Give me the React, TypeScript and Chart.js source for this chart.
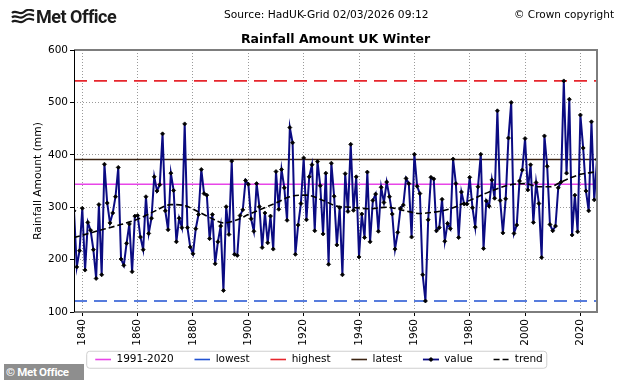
import React, { useEffect, useRef } from "react";
import { Chart, registerables } from "chart.js";

Chart.register(...registerables);

// ---------- data ----------
const FIRST_YEAR = 1837;

// UK winter rainfall (mm), 1837 .. 2026
const winterRainfall: number[] = [
  293, 186, 217, 298, 180, 271, 256, 219, 164, 305,
  171, 382, 308, 270, 289, 320, 376, 201, 189, 231,
  268, 177, 283, 284, 243, 219, 320, 250, 279, 358,
  331, 343, 440, 293, 257, 365, 332, 234, 279, 261,
  459, 261, 224, 211, 259, 286, 372, 326, 323, 240,
  286, 192, 234, 264, 141, 301, 248, 388, 210, 208,
  284, 295, 351, 344, 278, 254, 345, 301, 223, 289,
  232, 283, 220, 368, 296, 372, 337, 275, 452, 423,
  210, 266, 307, 394, 276, 358, 381, 255, 387, 341,
  249, 365, 191, 384, 321, 228, 299, 171, 364, 292,
  420, 294, 358, 205, 287, 242, 367, 234, 313, 325,
  254, 338, 309, 348, 320, 287, 220, 252, 298, 304,
  355, 345, 243, 401, 340, 326, 171, 121, 276, 357,
  354, 255, 261, 315, 235, 269, 259, 392, 345, 242,
  329, 306, 306, 357, 299, 262, 339, 401, 221, 312,
  302, 352, 317, 484, 313, 251, 316, 432, 500, 250,
  266, 350, 371, 431, 333, 381, 271, 347, 307, 204,
  436, 378, 267, 255, 264, 337, 348, 541, 365, 506,
  247, 323, 253, 476, 413, 331, 293, 463, 314, 391,
];

// smoothed trend
const trendYears: number[] = [
  1837, 1845, 1852, 1860, 1866, 1872, 1877, 1882, 1887, 1891,
  1896, 1900, 1905, 1910, 1915, 1921, 1927, 1932, 1937, 1944,
  1950, 1956, 1962, 1966, 1970, 1974, 1980, 1987, 1994, 2000,
  2005, 2009, 2013, 2019, 2026,
];
const trendValues: number[] = [
  242, 254, 264, 277, 292, 305, 303, 291, 278, 270,
  276, 286, 297, 308, 320, 323, 313, 302, 300, 297,
  300, 294, 288, 290, 293, 299, 313, 329, 342, 345,
  339, 339, 348, 361, 368,
];

const BASELINE_FROM = 1991;
const BASELINE_TO = 2020;

const xTickYears: number[] = [1840, 1860, 1880, 1900, 1920, 1940, 1960, 1980, 2000, 2020];
const yTickValues: number[] = [100, 200, 300, 400, 500, 600];

const legendLabels: string[] = ["1991-2020", "lowest", "highest", "latest", "value", "trend"];

const TITLE = "Rainfall Amount UK Winter";
const Y_TITLE = "Rainfall Amount (mm)";
const SOURCE_TEXT = "Source: HadUK-Grid 02/03/2026 09:12";
const COPYRIGHT_TEXT = "© Crown copyright";
const BRAND_TEXT = "Met Office";
const FOOTER_TEXT = "© Met Office";

// ---------- styles ----------
const MAGENTA = "#e845e8";
const BLUE = "#2152d2";
const RED = "#e6262d";
const BROWN = "#3c2412";
const NAVY = "#0b0b82";
const FONT = "'DejaVu Sans', sans-serif";

const SWATCH_PAD = 12; // blank space in front of each legend swatch (item spacing)
const SWATCH_LEN = 16;
const SW = SWATCH_PAD + SWATCH_LEN;
const SH = 9;

function makeSwatch(color: string, width: number, dash: number[], marker: boolean): HTMLCanvasElement {
  const c = document.createElement("canvas");
  c.width = SW;
  c.height = SH;
  const g = c.getContext("2d") as CanvasRenderingContext2D;
  g.strokeStyle = color;
  g.lineWidth = width;
  g.setLineDash(dash);
  g.beginPath();
  g.moveTo(SWATCH_PAD, SH / 2);
  g.lineTo(SW, SH / 2);
  g.stroke();
  if (marker) {
    const cx = SWATCH_PAD + SWATCH_LEN / 2;
    g.setLineDash([]);
    g.fillStyle = "#000";
    g.beginPath();
    g.moveTo(cx, SH / 2 - 2.6);
    g.lineTo(cx + 2.6, SH / 2);
    g.lineTo(cx, SH / 2 + 2.6);
    g.lineTo(cx - 2.6, SH / 2);
    g.closePath();
    g.fill();
  }
  return c;
}

const framePlugin = {
  id: "frameAndLegendBox",
  afterDatasetsDraw(chart: any) {
    const { ctx, chartArea } = chart;
    const { left, right, top, bottom } = chartArea;
    ctx.save();
    ctx.strokeStyle = "#7d7d7d";
    ctx.lineWidth = 2;
    ctx.beginPath();
    ctx.moveTo(left, top);
    ctx.lineTo(right, top);
    ctx.lineTo(right, bottom);
    ctx.lineTo(left, bottom);
    ctx.stroke();
    ctx.strokeStyle = "#000";
    ctx.lineWidth = 1;
    ctx.beginPath();
    ctx.moveTo(left + 0.5, top);
    ctx.lineTo(left + 0.5, bottom);
    ctx.stroke();
    ctx.restore();
  },
  afterDraw(chart: any) {
    const legend = chart.legend;
    if (!legend || !legend.legendHitBoxes || !legend.legendHitBoxes.length) return;
    const boxes = legend.legendHitBoxes;
    const first = boxes[0];
    const last = boxes[boxes.length - 1];
    const x0 = first.left + SWATCH_PAD - 8.5;
    const x1 = last.left + last.width + 4;
    const y0 = first.top - 3;
    const y1 = first.top + first.height + 3.5;
    const r = 3;
    const ctx = chart.ctx;
    ctx.save();
    ctx.strokeStyle = "#cfcfcf";
    ctx.lineWidth = 1;
    ctx.beginPath();
    ctx.moveTo(x0 + r, y0);
    ctx.lineTo(x1 - r, y0);
    ctx.quadraticCurveTo(x1, y0, x1, y0 + r);
    ctx.lineTo(x1, y1 - r);
    ctx.quadraticCurveTo(x1, y1, x1 - r, y1);
    ctx.lineTo(x0 + r, y1);
    ctx.quadraticCurveTo(x0, y1, x0, y1 - r);
    ctx.lineTo(x0, y0 + r);
    ctx.quadraticCurveTo(x0, y0, x0 + r, y0);
    ctx.stroke();
    ctx.restore();
  },
};

export default function App() {
  const canvasRef = useRef<HTMLCanvasElement | null>(null);

  useEffect(() => {
    const canvas = canvasRef.current;
    if (!canvas) return;

    const years = winterRainfall.map((_, i) => FIRST_YEAR + i);
    const xMin = years[0];
    const xMax = years[years.length - 1];
    const lowest = Math.min(...winterRainfall);
    const highest = Math.max(...winterRainfall);
    const latest = winterRainfall[winterRainfall.length - 1];
    const baseVals = winterRainfall.filter((_, i) => years[i] >= BASELINE_FROM && years[i] <= BASELINE_TO);
    const baseline = baseVals.reduce((a, b) => a + b, 0) / baseVals.length;
    const flat = (v: number) => [
      { x: xMin, y: v },
      { x: xMax, y: v },
    ];

    const swatches = [
      makeSwatch(MAGENTA, 1.6, [], false),
      makeSwatch(BLUE, 1.6, [], false),
      makeSwatch(RED, 1.6, [], false),
      makeSwatch(BROWN, 1.6, [], false),
      makeSwatch(NAVY, 1.8, [], true),
      makeSwatch("#000", 1.6, [6, 3], false),
    ];

    Chart.defaults.font.family = FONT;
    Chart.defaults.color = "#000";

    const chart = new Chart(canvas, {
      type: "line",
      data: {
        datasets: [
          {
            label: "trend",
            data: trendYears.map((x, i) => ({ x, y: trendValues[i] })),
            borderColor: "#000",
            borderWidth: 1.6,
            borderDash: [6, 3],
            pointRadius: 0,
            cubicInterpolationMode: "monotone",
            fill: false,
          },
          {
            label: "value",
            data: years.map((x, i) => ({ x, y: winterRainfall[i] })),
            borderColor: NAVY,
            borderWidth: 2,
            pointRadius: 2,
            pointStyle: "rectRot",
            pointBackgroundColor: "#000",
            pointBorderColor: "#000",
            pointBorderWidth: 0.8,
            tension: 0,
            fill: false,
          },
          { label: "latest", data: flat(latest), borderColor: BROWN, borderWidth: 1.5, pointRadius: 0, fill: false },
          { label: "highest", data: flat(highest), borderColor: RED, borderWidth: 1.6, borderDash: [13, 7], pointRadius: 0, fill: false },
          { label: "lowest", data: flat(lowest), borderColor: BLUE, borderWidth: 1.6, borderDash: [13, 7], pointRadius: 0, fill: false },
          { label: "1991-2020", data: flat(baseline), borderColor: MAGENTA, borderWidth: 1.5, pointRadius: 0, fill: false },
        ] as any,
      },
      options: {
        animation: false,
        responsive: false,
        devicePixelRatio: 1,
        events: [],
        layout: { padding: { left: 0, right: 8, top: 32.5, bottom: 5.25 } },
        scales: {
          x: {
            type: "linear",
            min: xMin,
            max: xMax,
            afterBuildTicks: (s: any) => {
              s.ticks = xTickYears.map((v) => ({ value: v }));
            },
            afterFit: (s: any) => {
              s.height = 33.5;
            },
            ticks: {
              autoSkip: false,
              maxRotation: 90,
              minRotation: 90,
              padding: 3,
              color: "#000",
              font: { size: 10.5, family: FONT },
              callback: (v: any) => String(v),
            },
            grid: { color: "#9a9a9a", lineWidth: 1, tickLength: 4, tickColor: "#000", tickWidth: 1 },
            border: { display: false, dash: [1, 2] },
          },
          y: {
            type: "linear",
            min: 100,
            max: 600,
            afterBuildTicks: (s: any) => {
              s.ticks = yTickValues.map((v) => ({ value: v }));
            },
            afterFit: (s: any) => {
              s.width = 74;
            },
            ticks: {
              padding: 2,
              color: "#000",
              font: { size: 10.5, family: FONT },
              callback: (v: any) => String(v),
            },
            grid: { color: "#9a9a9a", lineWidth: 1, tickLength: 4, tickColor: "#000", tickWidth: 1 },
            border: { display: false, dash: [1, 2] },
            title: {
              display: true,
              text: Y_TITLE,
              color: "#000",
              font: { size: 10.7, family: FONT },
              padding: { top: 31.6, bottom: 0 },
            },
          },
          yRight: {
            type: "linear",
            position: "right",
            display: true,
            grid: { display: false, drawTicks: false },
            ticks: { display: false },
            border: { display: false },
            afterFit: (s: any) => {
              s.width = 29;
            },
          },
        } as any,
        plugins: {
          tooltip: { enabled: false },
          title: {
            display: true,
            text: TITLE,
            fullSize: false,
            color: "#000",
            font: { size: 12.5, weight: "bold", family: FONT, lineHeight: 1.2 },
            padding: { top: 0, bottom: 2.5 },
          },
          legend: {
            display: true,
            position: "bottom",
            labels: {
              usePointStyle: true,
              pointStyleWidth: SW,
              padding: 8.75,
              color: "#000",
              font: { size: 10.5, family: FONT },
              generateLabels: () =>
                legendLabels.map((text, i) => ({
                  text,
                  pointStyle: swatches[i],
                  fillStyle: "rgba(0,0,0,0)",
                  strokeStyle: "rgba(0,0,0,0)",
                  lineWidth: 0,
                  hidden: false,
                  fontColor: "#000",
                  datasetIndex: i,
                })),
            },
          },
        } as any,
      },
      plugins: [framePlugin],
    } as any);

    return () => {
      chart.destroy();
    };
  }, []);

  return (
    <div
      style={{
        position: "absolute",
        left: 0,
        top: 0,
        width: 634,
        height: 380,
        background: "#fff",
        overflow: "hidden",
      }}
    >
      <canvas
        ref={canvasRef}
        width={634}
        height={380}
        style={{ position: "absolute", left: 0, top: 0, width: 634, height: 380 }}
      />
      <svg
        width={24}
        height={16}
        viewBox="0 0 24 16"
        style={{ position: "absolute", left: 11, top: 9 }}
      >
        <path d="M1 4 C5 0, 9 7, 13 3 S20 1, 23 2" fill="none" stroke="#1b1b1b" strokeWidth={2.2} />
        <path d="M1 8.5 C5 4.5, 9 11.5, 13 7.5 S20 5.5, 23 6.5" fill="none" stroke="#1b1b1b" strokeWidth={2.2} />
        <path d="M1 13 C5 9, 9 16, 13 12 S20 10, 23 11" fill="none" stroke="#1b1b1b" strokeWidth={2.2} />
      </svg>
      <div
        style={{
          position: "absolute",
          left: 36,
          top: 6,
          font: "700 18px Roboto, sans-serif",
          letterSpacing: "-0.5px",
          color: "#1b1b1b",
          whiteSpace: "nowrap",
        }}
      >
        {BRAND_TEXT}
      </div>
      <div
        style={{
          position: "absolute",
          left: 224,
          top: 8,
          font: "10.7px 'DejaVu Sans', sans-serif",
          color: "#000",
          whiteSpace: "nowrap",
        }}
      >
        {SOURCE_TEXT}
      </div>
      <div
        style={{
          position: "absolute",
          left: 514,
          top: 8,
          font: "10.5px 'DejaVu Sans', sans-serif",
          color: "#000",
          whiteSpace: "nowrap",
        }}
      >
        {COPYRIGHT_TEXT}
      </div>
      <div
        style={{
          position: "absolute",
          left: 4,
          top: 364,
          width: 80,
          height: 16,
          background: "#8e8e8e",
          color: "#fff",
          font: "700 11.5px Roboto, sans-serif",
          lineHeight: "16px",
          paddingLeft: 2,
          boxSizing: "border-box",
          whiteSpace: "nowrap",
          letterSpacing: "-0.3px",
        }}
      >
        {FOOTER_TEXT}
      </div>
    </div>
  );
}
